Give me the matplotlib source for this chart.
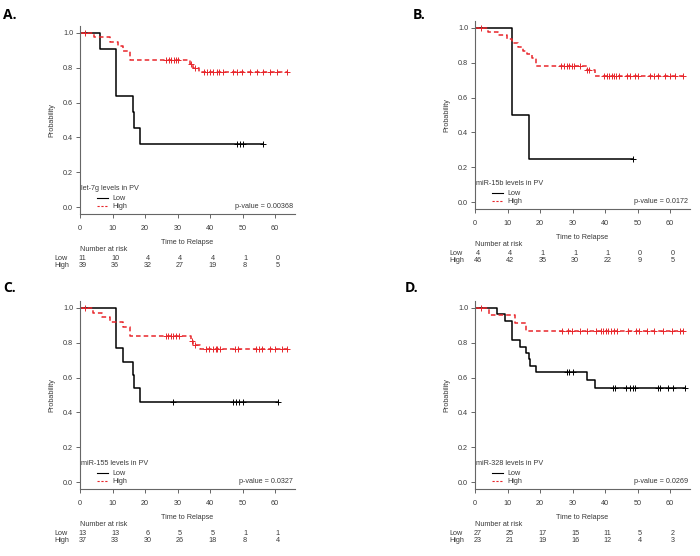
import numpy as np
import matplotlib
matplotlib.use('Agg')
import matplotlib.pyplot as plt

plt.rcParams['font.family'] = ['Liberation Sans', 'DejaVu Sans']

# ---- panel data ----
names = ['let-7g', 'miR-15b', 'miR-155', 'miR-328']
letters = ['A.', 'B.', 'C.', 'D.']
pvalues = ['0.00368', '0.0172', '0.0327', '0.0269']
risk_times = [0, 10, 20, 30, 40, 50, 60]

low_t = [
    [0, 6.2, 11.0, 11.2, 16.4, 16.6, 18.5],
    [0, 11.3, 11.5, 16.7],
    [0, 11.0, 11.2, 13.3, 16.4, 16.6, 18.5],
    [0, 6.7, 9.2, 11.3, 11.5, 13.8, 15.7, 16.7, 16.9, 18.8, 34.6, 36.9],
]
low_s = [
    [1, 0.909, 0.727, 0.636, 0.545, 0.455, 0.364],
    [1, 0.75, 0.5, 0.25],
    [1, 0.846, 0.769, 0.692, 0.615, 0.538, 0.462],
    [1, 0.963, 0.926, 0.889, 0.815, 0.778, 0.741, 0.704, 0.667, 0.63, 0.589, 0.54],
]
low_end = [56.2, 48.5, 61.0, 64.6]
low_cens = [
    [48.4, 49.2, 50.0, 56.2],
    [48.5],
    [28.7, 47.2, 48.1, 49.0, 50.0, 61.0],
    [28.2, 29.0, 30.2, 42.5, 43.0, 46.6, 47.6, 48.6, 49.3, 56.4, 57.0, 59.5, 61.0, 64.6],
]

high_t = [
    [0, 4.3, 9.2, 11.8, 13.3, 15.4, 33.8, 34.9, 36.7],
    [0, 4.1, 7.2, 9.7, 11.3, 13.3, 14.9, 15.9, 17.4, 18.8, 34.6, 36.9],
    [0, 4.1, 6.7, 9.2, 13.3, 15.4, 34.0, 34.9, 36.9],
    [0, 4.4, 12.3, 15.6],
]
high_s = [
    [1, 0.974, 0.949, 0.923, 0.897, 0.846, 0.82, 0.80, 0.777],
    [1, 0.978, 0.957, 0.935, 0.913, 0.891, 0.87, 0.848, 0.826, 0.783, 0.757, 0.724],
    [1, 0.973, 0.946, 0.919, 0.892, 0.838, 0.812, 0.79, 0.765],
    [1, 0.957, 0.913, 0.87],
]
high_end = [63.6, 63.9, 63.8, 64.0]
high_cens = [
    [1.5, 26.5, 27.3, 28.0, 28.8, 29.5, 30.3, 34.3, 35.5, 38.2, 39.2, 40.0, 41.0,
     42.0, 42.7, 43.9, 47.2, 48.4, 49.7, 52.3, 54.4, 56.4, 58.5, 60.5, 63.6],
    [1.8, 26.5, 27.3, 28.2, 29.0, 29.8, 30.5, 32.4, 34.6, 35.2, 39.7, 40.5, 41.2,
     42.0, 42.7, 43.4, 44.2, 46.8, 47.6, 49.3, 50.0, 53.8, 55.1, 56.4, 58.5, 60.0,
     61.5, 63.9],
    [1.5, 26.4, 27.2, 28.0, 28.7, 29.5, 30.5, 34.4, 35.4, 38.8, 39.8, 40.8, 41.8,
     42.3, 43.1, 47.6, 48.6, 54.0, 55.0, 56.0, 58.5, 60.0, 62.0, 63.8],
    [1.8, 26.7, 28.7, 29.7, 32.3, 34.6, 37.2, 38.7, 39.5, 40.3, 41.0, 41.8, 42.8,
     43.6, 47.2, 49.5, 50.5, 52.8, 55.1, 57.9, 60.5, 63.1, 64.0],
]

risk_low = [
    [11, 10, 4, 4, 4, 1, 0],
    [4, 4, 1, 1, 1, 0, 0],
    [13, 13, 6, 5, 5, 1, 1],
    [27, 25, 17, 15, 11, 5, 2],
]
risk_high = [
    [39, 36, 32, 27, 19, 8, 5],
    [46, 42, 35, 30, 22, 9, 5],
    [37, 33, 30, 26, 18, 8, 4],
    [23, 21, 19, 16, 12, 4, 3],
]

# axes boxes in pixels: left, top, bottom
boxes = [(80, 26, 214), (475, 21, 209), (80, 301, 489), (475, 301, 489)]
label_pos = [(3, 15), (413, 15), (3, 288), (405, 288)]

W, H = 700, 556
RED = '#e8262b'
TXT = '#3a3a3a'
FS = 5.2

fig = plt.figure(figsize=(W / 100, H / 100), dpi=100)


def surv_at(t, s, x):
    idx = np.searchsorted(t, x, side='right') - 1
    return np.asarray(s)[idx]


for i in range(4):
    left, top, bottom = boxes[i]
    ax = fig.add_axes([left / W, 1 - bottom / H, 214.5 / W, (bottom - top) / H])
    ax.set_xlim(0, 66)
    ax.set_ylim(-0.04, 1.04)
    for sp in ['top', 'right']:
        ax.spines[sp].set_visible(False)
    for sp in ['left', 'bottom']:
        ax.spines[sp].set_color('#666666')
        ax.spines[sp].set_linewidth(0.8)
    ax.set_xticks(risk_times)
    ax.set_yticks([0, 0.2, 0.4, 0.6, 0.8, 1.0])
    ax.set_yticklabels(['0.0', '0.2', '0.4', '0.6', '0.8', '1.0'])
    ax.tick_params(direction='out', length=3, width=0.7, color='#666666',
                   labelsize=FS, labelcolor=TXT, pad=2)
    ax.tick_params(axis='x', pad=5)

    # curves
    t = np.array(low_t[i]); s = np.array(low_s[i])
    ax.step(np.append(t, low_end[i]), np.append(s, s[-1]), where='post',
            color='black', lw=1.1)
    c = np.array(low_cens[i])
    ax.plot(c, surv_at(t, s, c), ls='none', marker='+', ms=4.5, mew=0.7, color='black')

    t = np.array(high_t[i]); s = np.array(high_s[i])
    ax.step(np.append(t, high_end[i]), np.append(s, s[-1]), where='post',
            color=RED, lw=1.1, ls=(0, (3, 2)))
    c = np.array(high_cens[i])
    ax.plot(c, surv_at(t, s, c), ls='none', marker='+', ms=4.5, mew=0.7, color=RED)

    # legend
    ax.text(0.3, 0.105, names[i] + ' levels in PV', fontsize=FS, color=TXT,
            ha='left', va='center')
    ax.plot([5.3, 8.5], [0.05, 0.05], color='black', lw=0.8)
    ax.plot([5.3, 8.5], [0.005, 0.005], color=RED, lw=0.8, ls=(0, (2, 1.5)))
    ax.text(10, 0.05, 'Low', fontsize=FS, color=TXT, ha='left', va='center')
    ax.text(10, 0.005, 'High', fontsize=FS, color=TXT, ha='left', va='center')
    ax.text(65.5, 0.005, 'p-value = ' + pvalues[i], fontsize=FS, color=TXT,
            ha='right', va='center')

    ax.text(-8.7, 0.5, 'Probability', rotation=90, fontsize=FS, color=TXT,
            ha='center', va='center')

    tr = ax.get_xaxis_transform()
    ax.text(33, -0.152, 'Time to Relapse', transform=tr, fontsize=FS, color=TXT,
            ha='center', va='center', clip_on=False)
    ax.text(0, -0.19, 'Number at risk', transform=tr, fontsize=FS, color=TXT,
            ha='left', va='center', clip_on=False)
    ax.text(-8, -0.237, 'Low', transform=tr, fontsize=FS, color=TXT,
            ha='left', va='center', clip_on=False)
    ax.text(-8, -0.275, 'High', transform=tr, fontsize=FS, color=TXT,
            ha='left', va='center', clip_on=False)
    for k, x in enumerate(risk_times):
        ax.text(x + 0.8, -0.237, str(risk_low[i][k]), transform=tr, fontsize=FS,
                color=TXT, ha='center', va='center', clip_on=False)
        ax.text(x + 0.8, -0.275, str(risk_high[i][k]), transform=tr, fontsize=FS,
                color=TXT, ha='center', va='center', clip_on=False)

    lx, ly = label_pos[i]
    fig.text(lx / W, 1 - ly / H, letters[i], fontsize=10, fontweight='bold',
             family=['Open Sans', 'DejaVu Sans'], ha='left', va='center')

fig.savefig('out.png', dpi=100)
